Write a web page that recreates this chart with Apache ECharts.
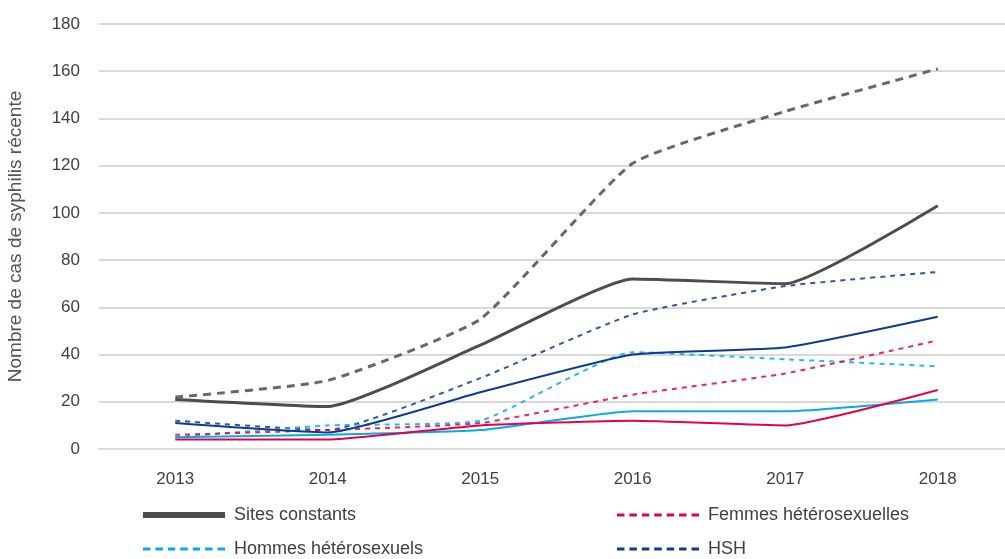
<!DOCTYPE html>
<html>
<head>
<meta charset="utf-8">
<script src="https://cdn.jsdelivr.net/npm/echarts@6/dist/echarts.min.js"></script>
<style>
  html, body { margin: 0; padding: 0; background: #fff; }
  #chart { width: 1005px; height: 559px; }
</style>
</head>
<body>
<div id="chart"></div>
<script>
const years = ['2013', '2014', '2015', '2016', '2017', '2018']
const yTicks = [0, 20, 40, 60, 80, 100, 120, 140, 160, 180]

// tous sites (pointillés) / sites constants (traits pleins)
const totalAll = [22, 29, 55, 121, 143, 161]
const totalConst = [21, 18, 44, 72, 70, 103]
const hshAll = [12, 8, 30, 57, 69, 75]
const hshConst = [11, 7, 24, 40, 43, 56]
const hommesAll = [5, 10, 12, 41, 38, 35]
const hommesConst = [5, 6, 8, 16, 16, 21]
const femmesAll = [6, 8, 11, 23, 32, 46]
const femmesConst = [4, 4, 10, 12, 10, 25]

const GRAY = '#4d4d4d'
const PINK = '#e5004f'
const CYAN = '#00aee6'
const BLUE = '#0b3c8e'
const FONT = 'Arial, "Liberation Sans", sans-serif'

// icones de légende : boite 82x14 (les M fixent la taille), trait au milieu
let dashPath = 'path://M0,0M82,14'
for (let i = 0; i < 7; i++) {
  dashPath += 'M' + (i * 12.5) + ',5.5h7.5v3h-7.5z'
}
const solidPath = 'path://M0,0M82,14M0,4h82v6h-82z'

function line(name, data, color, width, dashed) {
  return {
    name: name,
    type: 'line',
    data: data,
    symbol: 'none',
    smooth: 0.15,
    z: dashed ? 2 : 3,
    lineStyle: {
      color: color,
      width: width,
      type: dashed ? (color === GRAY ? [8, 6] : [5, 5]) : 'solid',
      opacity: dashed ? 0.85 : 1
    },
    itemStyle: { color: color }
  }
}

function legendBlock(left, items) {
  return {
    orient: 'vertical',
    left: left,
    top: 506,
    height: 80,
    padding: 0,
    itemWidth: 82,
    itemHeight: 14,
    itemGap: 16,
    symbolKeepAspect: false,
    textStyle: { color: '#404040', fontSize: 18, fontFamily: FONT, padding: [0, 0, 0, 4] },
    data: items
  }
}

const chart = echarts.init(document.getElementById('chart'))

chart.setOption({
  animation: false,
  textStyle: { fontFamily: FONT },
  grid: {
    left: 99,
    right: -9,
    top: 24,
    bottom: 110,
    outerBoundsMode: 'none'
  },
  legend: [
    legendBlock(143, [
      { name: 'Sites constants', icon: solidPath, itemStyle: { color: GRAY } },
      { name: 'Hommes hétérosexuels', icon: dashPath, itemStyle: { color: CYAN } }
    ]),
    legendBlock(617, [
      { name: 'Femmes hétérosexuelles', icon: dashPath, itemStyle: { color: PINK } },
      { name: 'HSH', icon: dashPath, itemStyle: { color: BLUE } }
    ])
  ],
  xAxis: {
    type: 'category',
    data: years,
    boundaryGap: true,
    axisLine: { lineStyle: { color: '#d9d9d9', width: 2 } },
    axisTick: { show: false },
    axisLabel: { color: '#404040', fontSize: 17, margin: 22 }
  },
  yAxis: {
    type: 'value',
    min: yTicks[0],
    max: yTicks[yTicks.length - 1],
    interval: 20,
    name: 'Nombre de cas de syphilis récente',
    nameLocation: 'middle',
    nameGap: 74,
    nameTextStyle: { color: '#5b4f4f', fontSize: 19 },
    axisLine: { show: false },
    axisTick: { show: false },
    axisLabel: { color: '#404040', fontSize: 17, margin: 19 },
    splitLine: { lineStyle: { color: '#d9d9d9', width: 2 } }
  },
  series: [
    line('Tous sites', totalAll, GRAY, 3, true),
    line('Sites constants', totalConst, GRAY, 3, false),
    line('HSH', hshAll, BLUE, 2, true),
    line('HSH (sites constants)', hshConst, BLUE, 2, false),
    line('Hommes hétérosexuels', hommesAll, CYAN, 2, true),
    line('Hommes hétérosexuels (sites constants)', hommesConst, CYAN, 2, false),
    line('Femmes hétérosexuelles', femmesAll, PINK, 2, true),
    line('Femmes hétérosexuelles (sites constants)', femmesConst, PINK, 2, false)
  ]
})
</script>
</body>
</html>
